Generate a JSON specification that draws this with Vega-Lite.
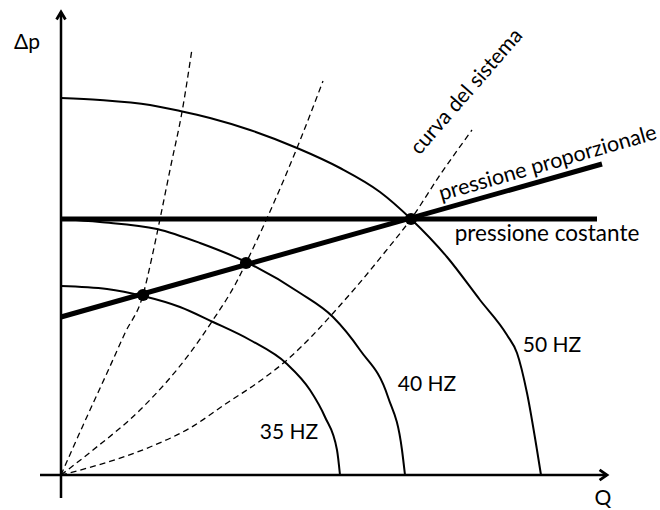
{
  "$schema": "https://vega.github.io/schema/vega-lite/v6.json",
  "width": 660,
  "height": 510,
  "autosize": {"type": "none"},
  "padding": 0,
  "background": "white",
  "config": {"view": {"stroke": null}, "text": {"font": "Lato", "fontSize": 21, "color": "black"}},
  "datasets": {
    "pump": [
      {"curve": "50 HZ", "Q": 0, "H": 377}, {"curve": "50 HZ", "Q": 39, "H": 375}, {"curve": "50 HZ", "Q": 89, "H": 370},
      {"curve": "50 HZ", "Q": 119, "H": 364}, {"curve": "50 HZ", "Q": 149, "H": 357}, {"curve": "50 HZ", "Q": 189, "H": 345},
      {"curve": "50 HZ", "Q": 236, "H": 327}, {"curve": "50 HZ", "Q": 279, "H": 307}, {"curve": "50 HZ", "Q": 319, "H": 283},
      {"curve": "50 HZ", "Q": 350, "H": 256}, {"curve": "50 HZ", "Q": 386, "H": 218}, {"curve": "50 HZ", "Q": 419, "H": 175},
      {"curve": "50 HZ", "Q": 446, "H": 140}, {"curve": "50 HZ", "Q": 456, "H": 122}, {"curve": "50 HZ", "Q": 466, "H": 82},
      {"curve": "50 HZ", "Q": 476, "H": 25}, {"curve": "50 HZ", "Q": 480, "H": 0},
      {"curve": "40 HZ", "Q": 0, "H": 256}, {"curve": "40 HZ", "Q": 39, "H": 253}, {"curve": "40 HZ", "Q": 96, "H": 246},
      {"curve": "40 HZ", "Q": 139, "H": 232}, {"curve": "40 HZ", "Q": 185, "H": 213}, {"curve": "40 HZ", "Q": 239, "H": 182},
      {"curve": "40 HZ", "Q": 272, "H": 158}, {"curve": "40 HZ", "Q": 299, "H": 125}, {"curve": "40 HZ", "Q": 327, "H": 78},
      {"curve": "40 HZ", "Q": 341, "H": 25}, {"curve": "40 HZ", "Q": 344, "H": 0},
      {"curve": "35 HZ", "Q": 0, "H": 189}, {"curve": "35 HZ", "Q": 46, "H": 186}, {"curve": "35 HZ", "Q": 82, "H": 179},
      {"curve": "35 HZ", "Q": 119, "H": 168}, {"curve": "35 HZ", "Q": 152, "H": 153}, {"curve": "35 HZ", "Q": 189, "H": 135},
      {"curve": "35 HZ", "Q": 226, "H": 111}, {"curve": "35 HZ", "Q": 249, "H": 85}, {"curve": "35 HZ", "Q": 264, "H": 58},
      {"curve": "35 HZ", "Q": 276, "H": 25}, {"curve": "35 HZ", "Q": 279, "H": 0}
    ],
    "system": [
      {"curve": "s1", "Q": 0, "H": 0}, {"curve": "s1", "Q": 11, "H": 25}, {"curve": "s1", "Q": 29, "H": 65},
      {"curve": "s1", "Q": 46, "H": 102}, {"curve": "s1", "Q": 64, "H": 142}, {"curve": "s1", "Q": 82, "H": 180},
      {"curve": "s1", "Q": 91, "H": 218}, {"curve": "s1", "Q": 99, "H": 256}, {"curve": "s1", "Q": 110, "H": 310},
      {"curve": "s1", "Q": 121, "H": 363}, {"curve": "s1", "Q": 131, "H": 426},
      {"curve": "s2", "Q": 0, "H": 0}, {"curve": "s2", "Q": 32, "H": 25}, {"curve": "s2", "Q": 79, "H": 65},
      {"curve": "s2", "Q": 129, "H": 122}, {"curve": "s2", "Q": 152, "H": 155}, {"curve": "s2", "Q": 175, "H": 192},
      {"curve": "s2", "Q": 185, "H": 212}, {"curve": "s2", "Q": 202, "H": 248}, {"curve": "s2", "Q": 211, "H": 268},
      {"curve": "s2", "Q": 236, "H": 327}, {"curve": "s2", "Q": 262, "H": 394},
      {"curve": "s3", "Q": 0, "H": 0}, {"curve": "s3", "Q": 37, "H": 10}, {"curve": "s3", "Q": 89, "H": 28},
      {"curve": "s3", "Q": 129, "H": 47}, {"curve": "s3", "Q": 166, "H": 72}, {"curve": "s3", "Q": 199, "H": 94},
      {"curve": "s3", "Q": 226, "H": 115}, {"curve": "s3", "Q": 251, "H": 139}, {"curve": "s3", "Q": 274, "H": 164},
      {"curve": "s3", "Q": 296, "H": 189}, {"curve": "s3", "Q": 324, "H": 223}, {"curve": "s3", "Q": 350, "H": 256},
      {"curve": "s3", "Q": 379, "H": 300}, {"curve": "s3", "Q": 411, "H": 345}
    ],
    "regulation": [
      {"line": "pressione costante", "Q": 0, "H": 256}, {"line": "pressione costante", "Q": 536, "H": 256},
      {"line": "pressione proporzionale", "Q": 0, "H": 158}, {"line": "pressione proporzionale", "Q": 541, "H": 311}
    ],
    "dots": [
      {"Q": 82, "H": 180}, {"Q": 185, "H": 212}, {"Q": 350, "H": 256}
    ],
    "axes": [
      {"axis": "Q", "Q": -21, "Q2": 546, "H": 0, "H2": 0},
      {"axis": "Δp", "Q": 0, "Q2": 0, "H": -23, "H2": 463}
    ],
    "arrows": [
      {"dir": "right", "Q": 546, "H": 0},
      {"dir": "up", "Q": 0, "H": 463}
    ],
    "labels": [
      {"label": "Δp", "Q": -34, "H": 432},
      {"label": "Q", "Q": 542, "H": -24},
      {"label": "35 HZ", "Q": 228, "H": 42},
      {"label": "40 HZ", "Q": 366, "H": 90},
      {"label": "50 HZ", "Q": 491, "H": 129}
    ],
    "big": [
      {"label": "pressione costante", "Q": 486, "H": 241}
    ],
    "rotated": [
      {"label": "pressione proporzionale", "Q": 487, "H": 311},
      {"label": "curva del sistema", "Q": 406, "H": 383}
    ]
  },
  "encoding": {
    "x": {"field": "Q", "type": "quantitative", "scale": {"domain": [-61, 599], "nice": false, "zero": false}, "axis": null},
    "y": {"field": "H", "type": "quantitative", "scale": {"domain": [-35, 475], "nice": false, "zero": false}, "axis": null}
  },
  "layer": [
    {
      "data": {"name": "system"},
      "mark": {"type": "line", "color": "black", "strokeWidth": 1.3, "strokeDash": [6, 4], "interpolate": "monotone"},
      "encoding": {"detail": {"field": "curve"}, "order": {"field": "Q", "type": "quantitative"}}
    },
    {
      "data": {"name": "pump"},
      "mark": {"type": "line", "color": "black", "strokeWidth": 2, "interpolate": "monotone"},
      "encoding": {"detail": {"field": "curve"}, "order": {"field": "Q", "type": "quantitative"}}
    },
    {
      "data": {"name": "regulation"},
      "mark": {"type": "line", "color": "black", "strokeWidth": 5},
      "encoding": {"detail": {"field": "line"}, "order": {"field": "Q", "type": "quantitative"}}
    },
    {
      "data": {"name": "axes"},
      "mark": {"type": "rule", "color": "black", "strokeWidth": 2.5},
      "encoding": {
        "x2": {"field": "Q2"},
        "y2": {"field": "H2"},
        "detail": {"field": "axis"}
      }
    },
    {
      "data": {"name": "arrows"},
      "mark": {"type": "point", "filled": false, "color": "black", "strokeWidth": 2.8, "size": 220, "opacity": 1},
      "encoding": {
        "shape": {"field": "dir", "type": "nominal", "legend": null,
          "scale": {"domain": ["right", "up"], "range": ["M-1,-0.7L0,0L-1,0.7", "M-0.6,1L0,0L0.6,1"]}}
      }
    },
    {
      "data": {"name": "dots"},
      "mark": {"type": "circle", "color": "black", "size": 150, "opacity": 1}
    },
    {
      "data": {"name": "labels"},
      "mark": {"type": "text", "align": "center", "baseline": "middle"},
      "encoding": {"text": {"field": "label"}}
    },
    {
      "data": {"name": "big"},
      "mark": {"type": "text", "align": "center", "baseline": "middle", "fontSize": 22.5},
      "encoding": {"text": {"field": "label"}}
    },
    {
      "data": {"name": "rotated"},
      "transform": [{"filter": "datum.label === 'pressione proporzionale'"}],
      "mark": {"type": "text", "align": "center", "baseline": "middle", "angle": -16, "fontSize": 21.5},
      "encoding": {"text": {"field": "label"}}
    },
    {
      "data": {"name": "rotated"},
      "transform": [{"filter": "datum.label === 'curva del sistema'"}],
      "mark": {"type": "text", "align": "center", "baseline": "middle", "angle": -49},
      "encoding": {"text": {"field": "label"}}
    }
  ]
}
